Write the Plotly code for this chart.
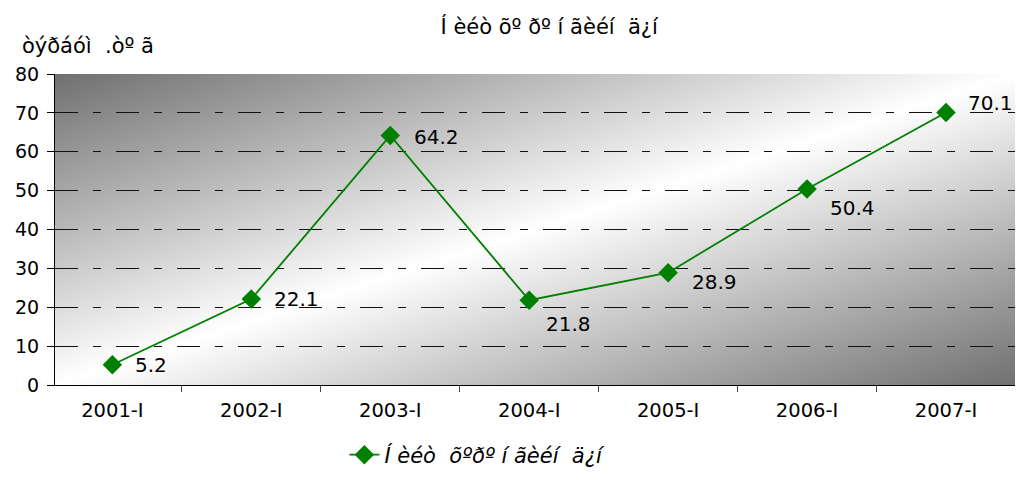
import plotly.graph_objects as go
import urllib.parse

categories = ["2001-I", "2002-I", "2003-I", "2004-I", "2005-I", "2006-I", "2007-I"]
values = [5.2, 22.1, 64.2, 21.8, 28.9, 50.4, 70.1]
series_name = "Í èéò  õºðº í ãèéí  ä¿í"
title_text = "Í èéò õº ðº í ãèéí  ä¿í"
y_title = "òýðáóì  .òº ã"

# label offsets (px) relative to the marker: (xshift, yshift)
label_offsets = [(21, 0), (21, 0), (22, -2), (15, -24), (22, -9), (21, -19), (20, 9)]

svg = ('<svg xmlns="http://www.w3.org/2000/svg" width="960" height="311" preserveAspectRatio="none" viewBox="0 0 960 311">'
       '<defs><linearGradient id="g" x1="0" y1="0" x2="1" y2="1">'
       '<stop offset="0" stop-color="#707070"/>'
       '<stop offset="0.5" stop-color="#ffffff"/>'
       '<stop offset="1" stop-color="#707070"/>'
       '</linearGradient></defs>'
       '<rect width="960" height="311" fill="url(#g)"/></svg>')
src = "data:image/svg+xml;charset=utf-8," + urllib.parse.quote(svg)

FONT = "DejaVu Sans"

fig = go.Figure()
fig.add_trace(go.Scatter(
    x=categories, y=values, mode="lines+markers", name=series_name,
    line=dict(color="#008000", width=1.8),
    marker=dict(symbol="diamond", size=15, color="#008000"),
    cliponaxis=False,
))

annotations = [dict(text=y_title, xref="paper", yref="paper", x=-0.036, y=1.09,
                    xanchor="left", yanchor="middle", showarrow=False,
                    font=dict(size=21))]
for c, v, (dx, dy) in zip(categories, values, label_offsets):
    annotations.append(dict(x=c, y=v, xref="x", yref="y", text=f"{v:.1f}",
                            showarrow=False, xanchor="left", yanchor="middle",
                            xshift=dx, yshift=dy, font=dict(size=20)))

fig.add_layout_image(dict(source=src, xref="paper", yref="paper", x=0, y=1,
                          sizex=1, sizey=1, sizing="stretch", layer="below"))

fig.update_layout(
    width=1017, height=490,
    margin=dict(l=55, r=2, t=74, b=105),
    paper_bgcolor="white", plot_bgcolor="rgba(0,0,0,0)",
    font=dict(family=FONT, size=18, color="black"),
    title=dict(text=title_text, x=0.54, xanchor="center", y=0.945, yanchor="middle",
               font=dict(size=21)),
    showlegend=True,
    legend=dict(orientation="h", x=0.44, xanchor="center", y=-0.225, yanchor="middle",
                font=dict(size=21, style="italic")),
    annotations=annotations,
)
fig.update_xaxes(showline=True, linecolor="black", linewidth=1, ticks="outside",
                 tickson="boundaries", ticklen=6, tickcolor="#444", showgrid=False,
                 tickfont=dict(size=19.5), ticklabelstandoff=8)
fig.update_yaxes(range=[0, 80], dtick=10, showline=True, linecolor="black", linewidth=1,
                 ticks="outside", ticklen=7, tickcolor="black", showgrid=True,
                 gridcolor="#111", gridwidth=1, griddash="23px,15px,8px,15px",
                 zeroline=False, tickfont=dict(size=19), ticklabelstandoff=4)

fig.write_html("out.html", config={"displayModeBar": False},
               post_script="document.body.style.margin='0';")
